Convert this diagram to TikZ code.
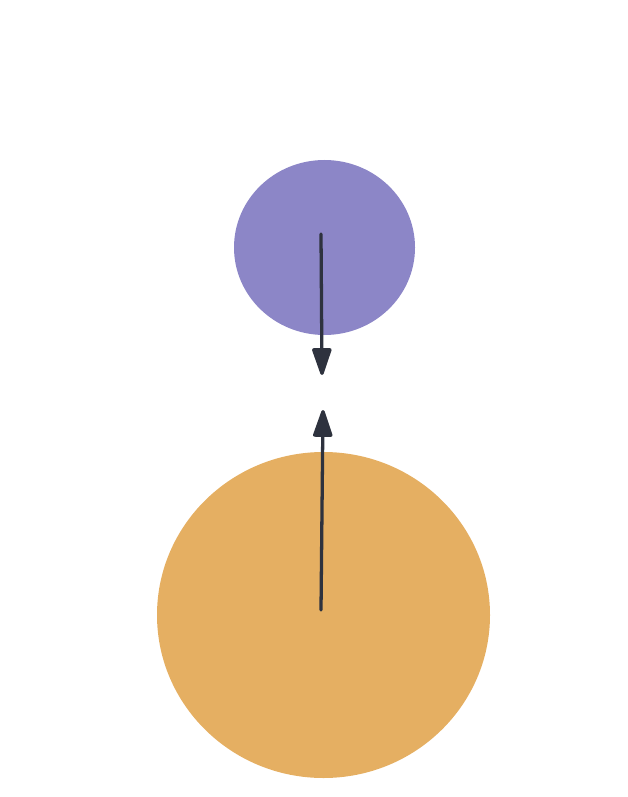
\documentclass[tikz,border=0pt]{standalone}
\usetikzlibrary{arrows.meta,shapes.geometric}
\definecolor{purp}{HTML}{8C86C7}
\definecolor{gold}{HTML}{E5AF62}
\definecolor{ink}{HTML}{2E323E}
\begin{document}
\begin{tikzpicture}[x=0.03cm,y=-0.03cm,
 body/.style={ellipse,inner sep=0pt,draw=none},
 pull/.style={-{Triangle[length=26pt,width=17pt,round]},line width=2.8pt,ink,line cap=round}]
\useasboundingbox (0,0) rectangle (628,797);
\node[body,fill=purp,minimum width=181*0.03cm,minimum height=175*0.03cm] (moon) at (324.5,247.5) {};
\node[body,fill=gold,minimum width=333*0.03cm,minimum height=326*0.03cm] (planet) at (323.5,615) {};
% force arrows
\coordinate (mc) at (321,234);
\coordinate (pc) at (321,610);
\coordinate (mt) at (322,375);
\coordinate (pt) at (323,410);
\draw[pull] (mc) -- (mt);
\draw[pull] (pc) -- (pt);
\end{tikzpicture}
\end{document}
